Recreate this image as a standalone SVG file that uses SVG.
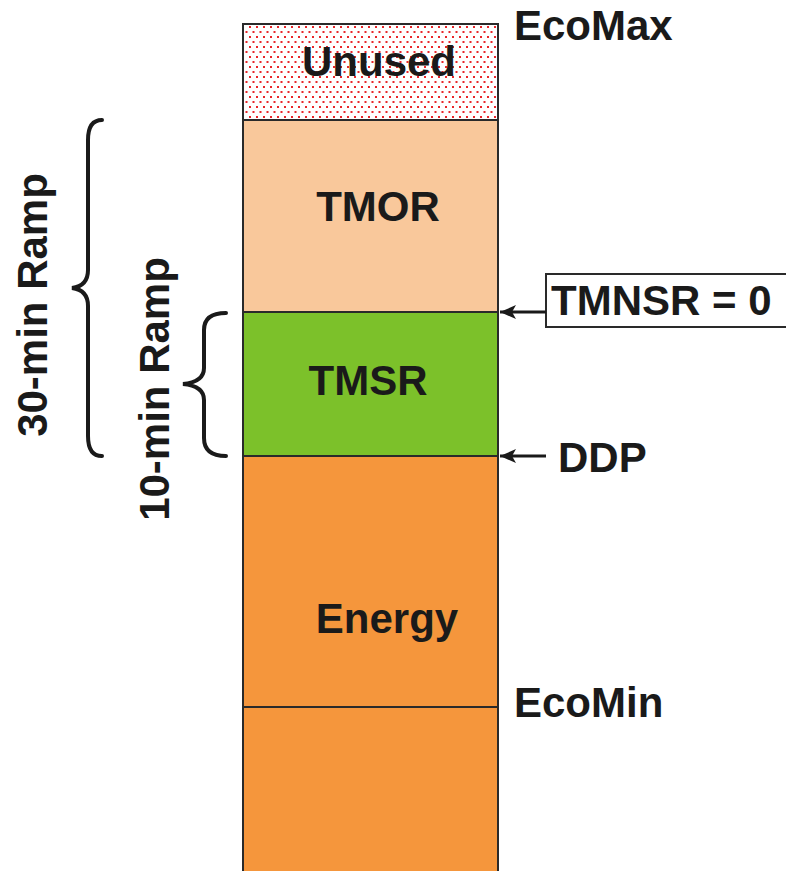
<svg xmlns="http://www.w3.org/2000/svg" width="786" height="871" viewBox="0 0 786 871">
<defs>
<pattern id="dots" x="0" y="0" width="7" height="10" patternUnits="userSpaceOnUse">
<rect x="0.5" y="1" width="2" height="2" fill="#e8262a"/>
<rect x="4" y="6" width="2" height="2" fill="#e8262a"/>
</pattern>
<marker id="ah" viewBox="0 0 16 14" refX="16" refY="7" markerWidth="16" markerHeight="14" orient="auto" markerUnits="userSpaceOnUse">
<path d="M0,0 L16,7 L0,14 L4,7 Z" fill="#1a1a1a"/>
</marker>
</defs>
<style>
text{font-family:"Liberation Sans",Arial,sans-serif;font-weight:bold;fill:#1a1a1a}
.lbl{font-size:42px}
.blk{stroke:#2a2a2a;stroke-width:2}
.brace{fill:none;stroke:#1a1a1a;stroke-width:4;stroke-linecap:round}
.conn{stroke:#1a1a1a;stroke-width:3;fill:none}
</style>
<rect x="0" y="0" width="786" height="871" fill="#ffffff"/>
<g id="unused">
<rect class="blk" x="243" y="24" width="255" height="96" fill="#ffffff"/>
<rect x="244" y="25" width="253" height="94" fill="url(#dots)"/>
<text class="lbl" x="379" y="76" text-anchor="middle">Unused</text>
</g>
<g id="tmor">
<rect class="blk" x="243" y="120" width="255" height="192" fill="#f9c89b"/>
<text class="lbl" x="378" y="221" text-anchor="middle">TMOR</text>
</g>
<g id="tmsr">
<rect class="blk" x="243" y="312" width="255" height="144" fill="#7cc12a"/>
<text class="lbl" x="368" y="395" text-anchor="middle">TMSR</text>
</g>
<g id="energy">
<rect class="blk" x="243" y="456" width="255" height="420" fill="#f5963c"/>
<line class="blk" x1="243" y1="707" x2="498" y2="707"/>
<text class="lbl" x="387" y="633" text-anchor="middle">Energy</text>
</g>
<g id="ecomax"><text class="lbl" x="514" y="40">EcoMax</text></g>
<g id="ecomin"><text class="lbl" x="514" y="717">EcoMin</text></g>
<g id="tmnsr">
<rect x="546" y="274" width="250" height="53" fill="#ffffff" stroke="#2a2a2a" stroke-width="2"/>
<text class="lbl" x="551" y="315">TMNSR = 0</text>
</g>
<g id="ddp"><text class="lbl" x="558" y="472">DDP</text></g>
<g id="ramp30">
<path class="brace" d="M102,120 Q88,120 88,140 L88,270 Q88,286 72,288 Q88,290 88,306 L88,436 Q88,456 102,456"/>
<text class="lbl" transform="translate(47,305) rotate(-90)" text-anchor="middle">30-min Ramp</text>
</g>
<g id="ramp10">
<path class="brace" d="M226,313 Q204,313 204,330 L204,368 Q204,382 183,384 Q204,386 204,400 L204,438 Q204,456 226,456"/>
<text class="lbl" transform="translate(169,389) rotate(-90)" text-anchor="middle">10-min Ramp</text>
</g>
<g id="connectors">
<line class="conn" x1="546" y1="312" x2="500" y2="312" marker-end="url(#ah)"/>
<line class="conn" x1="546" y1="456" x2="500" y2="456" marker-end="url(#ah)"/>
</g>
</svg>
